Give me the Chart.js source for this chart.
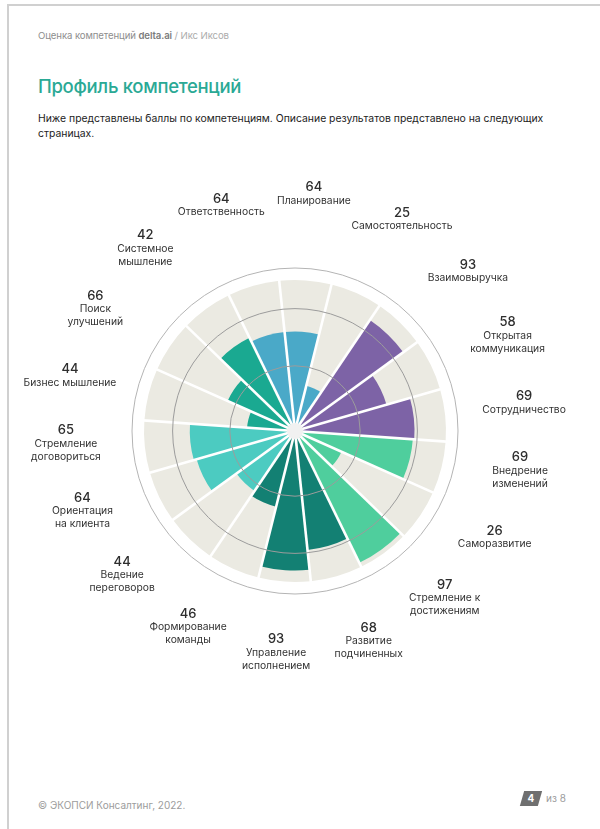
<!DOCTYPE html>
<html lang="ru">
<head>
<meta charset="utf-8">
<title>Профиль компетенций</title>
<script src="https://cdn.jsdelivr.net/npm/chart.js@4.4.1/dist/chart.umd.min.js"></script>
<style>
  html, body { margin: 0; padding: 0; background: #ffffff; }
  body { width: 600px; height: 829px; position: relative; overflow: hidden;
         font-family: Inter, "Open Sans", "Noto Sans", sans-serif; }
  .frame-top { position: absolute; left: 7px; top: 4px; width: 593px; height: 2px; background: #d0d0d0; }
  .frame-left { position: absolute; left: 7px; top: 4px; width: 2px; height: 825px; background: #d0d0d0; }
  .header { position: absolute; left: 38px; top: 30px; font-size: 9.6px; color: #8e8e8e; letter-spacing: -0.1px; }
  .header b { font-weight: 600; color: #7c7c7c; }
  .header .who { color: #ababab; }
  h1 { position: absolute; left: 38px; top: 75px; margin: 0; font-size: 18.5px; font-weight: 500;
       color: #2aa995; letter-spacing: -0.3px; }
  .intro { position: absolute; left: 38px; top: 111px; width: 520px; margin: 0; font-size: 10.4px;
           line-height: 15px; color: #222; }
  #wrap { position: absolute; left: 0; top: 150px; width: 600px; height: 560px; }
  .footer { position: absolute; left: 38px; top: 799px; font-size: 10px; color: #9c9c9c; }
  .badge { position: absolute; left: 522px; top: 791px; width: 18px; height: 15px; background: #6f6f6f;
           transform: skewX(-16deg); }
  .badge-num { position: absolute; left: 522px; top: 791px; width: 18px; height: 15px; line-height: 15px;
               text-align: center; font-size: 10px; font-weight: 700; color: #fff; }
  .pages { position: absolute; left: 546px; top: 792px; font-size: 10px; color: #9c9c9c; }
</style>
</head>
<body>
<div class="frame-top"></div>
<div class="frame-left"></div>
<div class="header">Оценка компетенций <b>delta.ai</b> <span class="who">/ Икс Иксов</span></div>
<h1>Профиль компетенций</h1>
<p class="intro">Ниже представлены баллы по компетенциям. Описание результатов представлено на следующих страницах.</p>
<div id="wrap"><canvas id="chart" width="600" height="560"></canvas></div>
<div class="footer">© ЭКОПСИ Консалтинг, 2022.</div>
<div class="badge"></div>
<div class="badge-num">4</div>
<div class="pages">из 8</div>

<script>
// ---- data (clockwise, starting just right of the top) ----
const categories = [
  ["Планирование"],
  ["Самостоятельность"],
  ["Взаимовыручка"],
  ["Открытая", "коммуникация"],
  ["Сотрудничество"],
  ["Внедрение", "изменений"],
  ["Саморазвитие"],
  ["Стремление к", "достижениям"],
  ["Развитие", "подчиненных"],
  ["Управление", "исполнением"],
  ["Формирование", "команды"],
  ["Ведение", "переговоров"],
  ["Ориентация", "на клиента"],
  ["Стремление", "договориться"],
  ["Бизнес мышление"],
  ["Поиск", "улучшений"],
  ["Системное", "мышление"],
  ["Ответственность"]
];
// printed scores
const scores = [64, 25, 93, 58, 69, 69, 26, 97, 68, 93, 46, 44, 64, 65, 44, 66, 42, 64];
// bar lengths as drawn in the picture (0–100 radial scale)
const barLevels = [64, 27, 88, 61, 78, 77, 30, 97, 78, 92, 49, 45, 66, 68, 28, 46, 67, 64];
// full-scale background sectors
const fullScale = [100, 100, 100, 100, 100, 100, 100, 100, 100, 100, 100, 100, 100, 100, 100, 100, 100, 100];
// radial grid rings
const gridValues = [40, 80];

// ---- styles ----
const BLUE = '#4aa9c8', PURPLE = '#7d63a6', GREEN = '#4fce9d', DARK = '#138073',
      LTEAL = '#4ccbc1', TEAL = '#1aa991';
const segmentColors = [BLUE, BLUE, PURPLE, PURPLE, PURPLE, GREEN, GREEN, GREEN, DARK, DARK, DARK,
                       LTEAL, LTEAL, LTEAL, TEAL, TEAL, TEAL, BLUE];
const FONT = 'Inter, "Open Sans", "Noto Sans", sans-serif';
const SCALE_MIN = -5.6, SCALE_MAX = 108.4, START_ANGLE = -6;
const LABEL_RADIUS = 230, LABEL_STRETCH = 1.18, LABEL_LIFT = 8;

const decor = {
  id: 'decor',
  afterDatasetsDraw(chart) {
    const s = chart.scales.r, ctx = chart.ctx;
    const meta = chart.getDatasetMeta(1);
    const rEnd = s.getDistanceFromCenterForValue(100) + 1;
    ctx.save();
    ctx.strokeStyle = '#ffffff';
    ctx.lineWidth = 2.6;
    ctx.lineCap = 'butt';
    meta.data.forEach(arc => {
      const a = arc.startAngle;
      ctx.beginPath();
      ctx.moveTo(s.xCenter, s.yCenter);
      ctx.lineTo(s.xCenter + rEnd * Math.cos(a), s.yCenter + rEnd * Math.sin(a));
      ctx.stroke();
    });
    ctx.restore();
  },
  afterDraw(chart) {
    const s = chart.scales.r, ctx = chart.ctx;
    // centre hub
    ctx.save();
    ctx.beginPath();
    ctx.arc(s.xCenter, s.yCenter, s.getDistanceFromCenterForValue(0), 0, Math.PI * 2);
    ctx.fillStyle = '#f1f1f1';
    ctx.fill();
    // labels
    const meta = chart.getDatasetMeta(1);
    ctx.textAlign = 'center';
    ctx.textBaseline = 'middle';
    meta.data.forEach((arc, i) => {
      const mid = (arc.startAngle + arc.endAngle) / 2 + Math.PI / 2; // clockwise from top
      const th = Math.atan2(LABEL_STRETCH * Math.sin(mid), Math.cos(mid));
      const cx = s.xCenter + LABEL_RADIUS * Math.sin(th);
      const cy = s.yCenter - LABEL_LIFT - LABEL_RADIUS * Math.cos(th);
      const lines = chart.data.labels[i];
      const h = 14 + 13 * lines.length;
      const top = cy - h / 2;
      ctx.fillStyle = '#2e2e2e';
      ctx.font = '500 13px ' + FONT;
      ctx.fillText(String(scores[i]), cx, top + 7);
      ctx.font = '400 10.3px ' + FONT;
      ctx.fillStyle = '#333333';
      lines.forEach((ln, j) => ctx.fillText(ln, cx, top + 14 + 6.5 + 13 * j));
    });
    ctx.restore();
  }
};

new Chart(document.getElementById('chart'), {
  type: 'polarArea',
  data: {
    labels: categories,
    datasets: [
      { data: barLevels, backgroundColor: segmentColors, borderWidth: 0, order: 0 },
      { data: fullScale, backgroundColor: '#ebeae2', borderWidth: 0, order: 1 }
    ]
  },
  options: {
    responsive: false,
    animation: false,
    devicePixelRatio: 1,
    layout: { padding: { left: 132, right: 142, top: 118, bottom: 116 } },
    plugins: { legend: { display: false }, tooltip: { enabled: false } },
    scales: {
      r: {
        min: SCALE_MIN,
        max: SCALE_MAX,
        startAngle: START_ANGLE,
        afterBuildTicks: (scale) => {
          scale.ticks = [0].concat(gridValues, [SCALE_MAX]).map(v => ({ value: v }));
        },
        ticks: { display: false },
        grid: {
          z: 1,
          circular: true,
          lineWidth: 1,
          color: (c) => {
            const v = c.tick ? c.tick.value : null;
            if (v === 0) return 'rgba(0,0,0,0)';
            return v === SCALE_MAX ? '#b4b4b4' : '#9c9c9c';
          }
        },
        angleLines: { display: false },
        pointLabels: { display: false }
      }
    }
  },
  plugins: [decor]
});
</script>
</body>
</html>
